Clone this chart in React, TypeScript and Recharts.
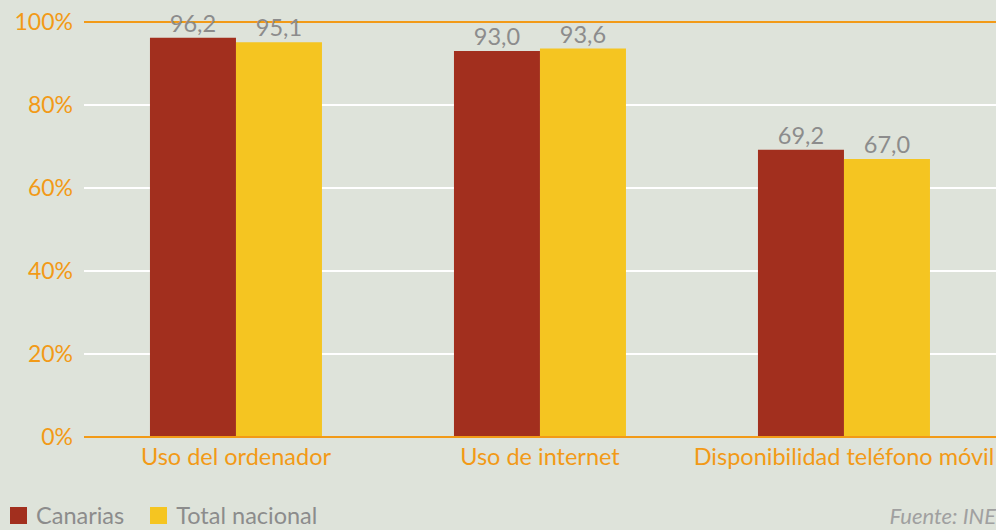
import { BarChart, Bar, XAxis, YAxis, CartesianGrid, ReferenceLine, LabelList } from 'recharts';

const categories = ['Uso del ordenador', 'Uso de internet', 'Disponibilidad teléfono móvil'];
const canarias = [96.2, 93.0, 69.2];
const totalNacional = [95.1, 93.6, 67.0];
const yTicks = [0, 20, 40, 60, 80, 100];

const series = [
  { key: 'canarias', name: 'Canarias', color: '#a22f1e' },
  { key: 'total', name: 'Total nacional', color: '#f5c521' },
];

const data = categories.map((name, i) => ({
  name,
  canarias: canarias[i],
  total: totalNacional[i],
}));

const ORANGE = '#f29a17';
const GRAY = '#8c8c8c';
const BG = '#dee3da';
const FONT = 'Lato, "Open Sans", sans-serif';

const fmt = (v: any) => Number(v).toFixed(1).replace('.', ',');

export default function App() {
  return (
    <div style={{ position: 'absolute', left: 0, top: 0, width: 996, height: 530, background: BG, fontFamily: FONT, overflow: 'hidden' }}>
      <BarChart
        width={996}
        height={530}
        data={data}
        margin={{ top: 22, right: 0, left: 0, bottom: 0 }}
        barCategoryGap="21.7%"
        barGap={0}
      >
        <CartesianGrid vertical={false} stroke="#ffffff" strokeWidth={2} />
        <XAxis
          dataKey="name"
          height={93}
          tickLine={false}
          axisLine={{ stroke: ORANGE, strokeWidth: 2 }}
          tickMargin={5}
          tick={{ fill: ORANGE, fontSize: 23.5, fontFamily: FONT }}
          interval={0}
        />
        <YAxis
          width={84}
          domain={[0, 100]}
          ticks={yTicks}
          tickFormatter={(v) => `${v}%`}
          tickLine={false}
          axisLine={false}
          tickMargin={5}
          tick={{ fill: ORANGE, fontSize: 23, fontFamily: FONT }}
        />
        <ReferenceLine y={100} stroke={ORANGE} strokeWidth={2} />
        {series.map((s) => (
          <Bar key={s.key} dataKey={s.key} name={s.name} fill={s.color} isAnimationActive={false}>
            <LabelList dataKey={s.key} position="top" offset={6} formatter={fmt} fill={GRAY} fontSize={23.5} fontFamily={FONT} />
          </Bar>
        ))}
      </BarChart>
      <div style={{ position: 'absolute', left: 10, top: 501, display: 'flex', alignItems: 'center', fontSize: 23.5, lineHeight: '28px', color: GRAY, whiteSpace: 'nowrap' }}>
        {series.map((s) => (
          <span key={s.key} style={{ display: 'flex', alignItems: 'center', marginRight: 26 }}>
            <span style={{ display: 'inline-block', width: 17, height: 17, background: s.color, marginRight: 9 }} />
            {s.name}
          </span>
        ))}
      </div>
      <div style={{ position: 'absolute', right: 0, top: 502, fontSize: 22, lineHeight: '27px', color: '#a0a0a0', fontStyle: 'italic' }}>
        Fuente: INE
      </div>
    </div>
  );
}
